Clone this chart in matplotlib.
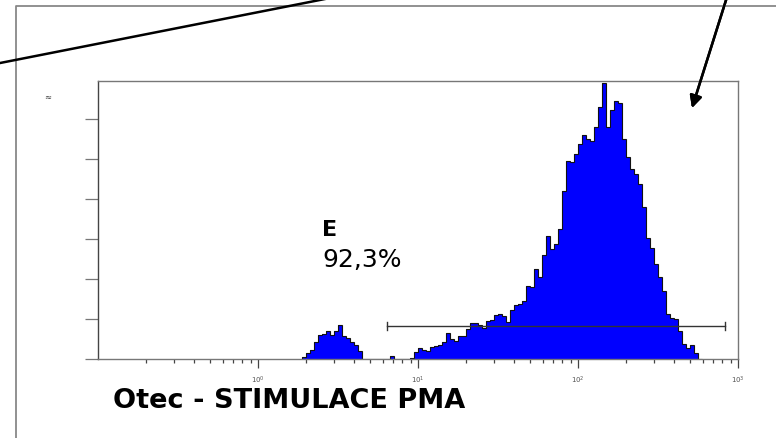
import matplotlib
matplotlib.use("Agg")
import matplotlib.pyplot as plt
import numpy as np
from matplotlib.lines import Line2D
from matplotlib.ticker import FixedLocator, NullFormatter

# histogram channels: log10 start, log10 bin width, counts
log_start = 0.275
log_step = 0.025
counts = [2, 6, 9, 17, 24, 25, 28, 24, 28, 34,
          23, 21, 17, 14, 8, 0, 0, 0, 0, 0,
          0, 0, 3, 0, 0, 0, 0, 1, 7, 11,
          9, 8, 12, 13, 14, 17, 26, 20, 18, 23,
          23, 30, 36, 36, 34, 31, 38, 39, 44, 45,
          43, 37, 49, 54, 55, 58, 73, 72, 90, 82,
          104, 123, 110, 115, 130, 168, 198, 197, 205, 215,
          224, 220, 218, 232, 252, 276, 232, 249, 258, 256,
          220, 202, 190, 185, 175, 152, 121, 111, 95, 82,
          68, 45, 41, 40, 28, 15, 11, 14, 6, 0]

# gate marker
gate_lo, gate_hi, gate_y = 6.4, 825, 33
gate_name = "E"
gate_pct = "92,3%"

major_ticks = [1, 10, 100, 1000]
major_labels = [r"$10^{0}$", r"$10^{1}$", r"$10^{2}$", r"$10^{3}$"]
y_ticks = [0, 40, 80, 120, 160, 200, 240]
title = "Otec - STIMULACE PMA"

W, H = 776, 438
fig = plt.figure(figsize=(W / 100, H / 100), dpi=100)
ax = fig.add_axes([98 / W, 1 - 358.5 / H, 640 / W, 278 / H])

edges = 10 ** (log_start + log_step * np.arange(len(counts) + 1))
ax.stairs(counts, edges, fill=True, color="#0000ff")
ax.stairs(counts, edges, color="#111111", lw=0.8)

# gate bar with end caps
ax.plot([gate_lo, gate_hi], [gate_y, gate_y], color="#333333", lw=1)
ax.plot([gate_lo, gate_lo], [gate_y - 4, gate_y + 4], color="#333333", lw=1)
ax.plot([gate_hi, gate_hi], [gate_y - 4, gate_y + 4], color="#333333", lw=1)

ax.set_xscale("log")
ax.set_xlim(0.1, 1000)
ax.set_ylim(0, 278)
ax.set_xticks(major_ticks)
ax.set_xticklabels(major_labels, fontsize=5, color="#555555")
minors = [m * d for d in [0.1, 1, 10, 100] for m in range(2, 10)]
ax.xaxis.set_minor_locator(FixedLocator(minors))
ax.xaxis.set_minor_formatter(NullFormatter())
ax.set_yticks(y_ticks)
ax.set_yticklabels([])
ax.tick_params(axis="x", which="major", direction="out", length=6.5, width=0.9,
               color="#444444", pad=5)
ax.tick_params(axis="x", which="minor", direction="out", length=3, width=0.9,
               color="#444444")
ax.tick_params(axis="y", direction="out", length=9.5, width=0.9, color="#777777")
for side, s in ax.spines.items():
    s.set_color("#777777")
    s.set_linewidth(1.0)
ax.spines["left"].set_color("#444444")

ax.text(0.35, 0.462, gate_name, transform=ax.transAxes, fontsize=16,
        fontweight="bold", family="DejaVu Sans", va="center", ha="left")
ax.text(0.35, 0.356, gate_pct, transform=ax.transAxes, fontsize=18,
        family="DejaVu Sans", va="center", ha="left")

fig.text(113 / W, 1 - 408 / H, title, fontsize=19.5, fontweight="bold",
         family="DejaVu Sans", va="baseline", ha="left")
fig.text(48 / W, 1 - 97 / H, "≈", fontsize=6, color="#333333",
         va="center", ha="center")

# outer frame (left and top edges)
fig.add_artist(Line2D([16 / W, 16 / W, 1.0], [0, 1 - 6 / H, 1 - 6 / H],
                      color="#888888", lw=1.3))

# pointer lines
fig.add_artist(Line2D([-5 / W, 330 / W], [1 - 64 / H, 1 + 2 / H],
                      color="black", lw=1.8))
fig.add_artist(plt.annotate("", xy=(692, H - 108), xycoords="figure pixels",
                            xytext=(727, H + 3), textcoords="figure pixels",
                            arrowprops=dict(arrowstyle="-|>", color="black",
                                            lw=1.8, mutation_scale=18,
                                            shrinkA=0, shrinkB=0)))

fig.savefig("out.png", dpi=100)
